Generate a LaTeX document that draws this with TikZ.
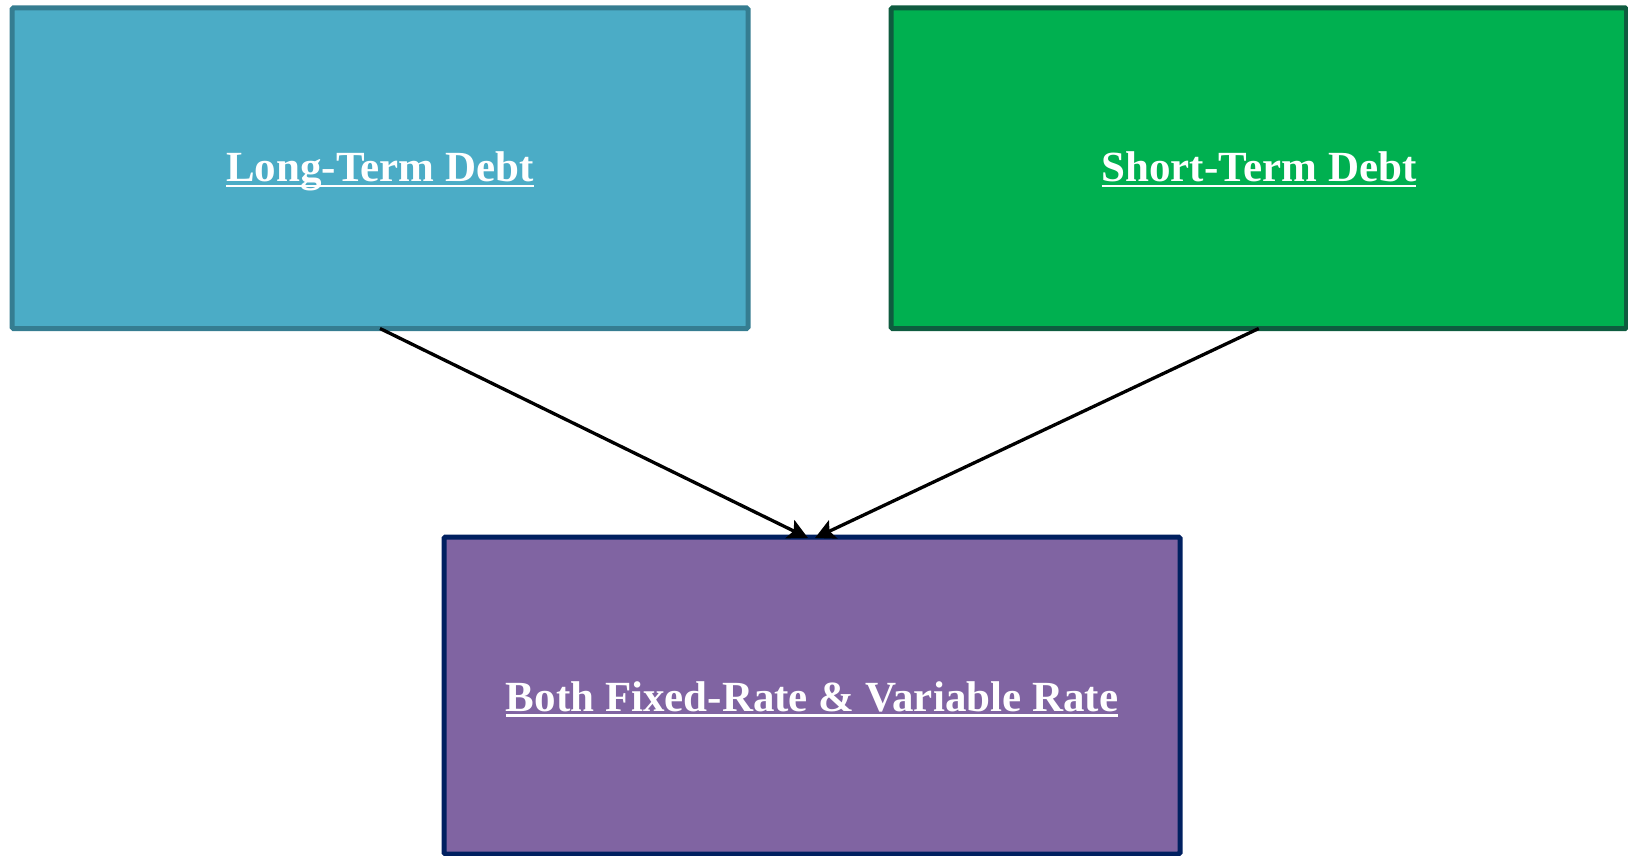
\documentclass[tikz,border=0pt]{standalone}
\usepackage{fontspec}
\setmainfont{Liberation Serif}
\usetikzlibrary{arrows.meta}
\definecolor{aquafill}{HTML}{4BACC6}
\definecolor{aquaedge}{HTML}{357D91}
\definecolor{greenfill}{HTML}{00B050}
\definecolor{greenedge}{HTML}{0E5C3F}
\definecolor{purplefill}{HTML}{8064A2}
\definecolor{navyedge}{HTML}{002060}
\newcommand\myul[1]{\setbox0\hbox{#1}\rlap{\rule[-5.5pt]{\wd0}{2.8pt}}\box0}
\tikzset{
  box/.style={line width=5pt, rounded corners=1.5pt},
  lbl/.style={text=white, font=\fontsize{43}{50}\selectfont\bfseries, inner sep=0pt, anchor=base},
  conn/.style={line width=3.3pt, -{Stealth[length=20pt,width=20pt,inset=4pt]}}
}
\begin{document}
\begin{tikzpicture}[x=1pt,y=-1pt]
\useasboundingbox (0,0) rectangle (1628,856);
\draw[box, fill=aquafill, draw=aquaedge] (12,8) rectangle (748,328.5);
\draw[box, fill=greenfill, draw=greenedge] (891,8) rectangle (1626.5,328.5);
\draw[box, fill=purplefill, draw=navyedge] (444,537) rectangle (1180,854);
\coordinate (ltop) at (380,328.5);
\coordinate (rtop) at (1258.75,328.5);
\coordinate (ltip) at (808,538);
\coordinate (rtip) at (815,538);
\node[lbl] (lt) at (380,182) {\myul{Long-Term Debt}};
\node[lbl] (st) at (1259,182) {\myul{Short-Term Debt}};
\node[lbl] (bf) at (812,711) {\myul{Both Fixed-Rate \& Variable Rate}};
\draw[conn] (ltop) -- (ltip);
\draw[conn] (rtop) -- (rtip);
\end{tikzpicture}
\end{document}
